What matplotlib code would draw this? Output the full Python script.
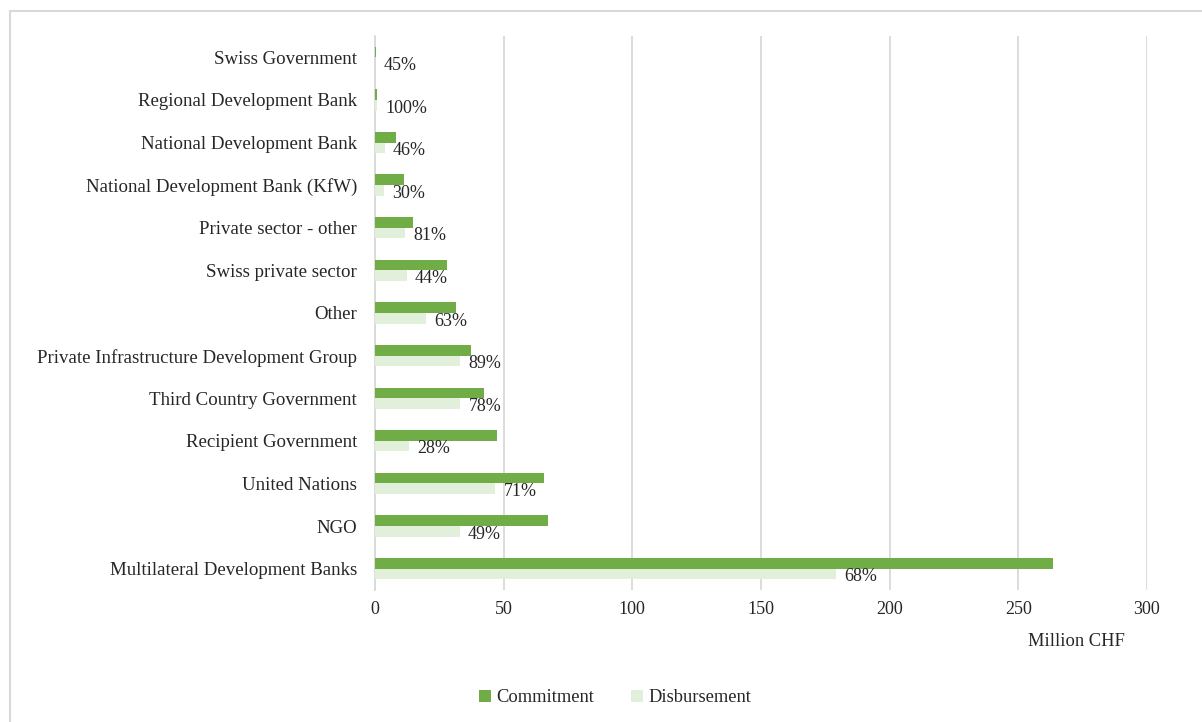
import matplotlib
matplotlib.use("Agg")
import matplotlib.pyplot as plt
from matplotlib.patches import Rectangle, Patch
import numpy as np

plt.rcParams['font.family'] = ['Liberation Serif', 'DejaVu Serif']

# Partner categories, bottom to top
categories = [
    "Multilateral Development Banks",
    "NGO",
    "United Nations",
    "Recipient Government",
    "Third Country Government",
    "Private Infrastructure Development Group",
    "Other",
    "Swiss private sector",
    "Private sector - other",
    "National Development Bank (KfW)",
    "National Development Bank",
    "Regional Development Bank",
    "Swiss Government",
]

# Committed amounts, million CHF
commitment = [263.5, 67.1, 65.8, 47.3, 42.4, 37.3, 31.4, 27.9, 14.6, 11.4, 8.1, 0.8, 0.2]

# Share of the commitment disbursed, percent
disbursed_pct = [68, 49, 71, 28, 78, 89, 63, 44, 81, 30, 46, 100, 45]

disbursement = [c * p / 100 for c, p in zip(commitment, disbursed_pct)]

x_ticks = [0, 50, 100, 150, 200, 250, 300]

green = "#70AD47"
light_green = "#E2EFDA"
grid_col = "#D9D9D9"
text_col = "#262626"

fig = plt.figure(figsize=(12.02, 7.22), dpi=100)

# Outer chart frame
fig.patches.append(Rectangle((9.5 / 1202, -0.01), 1.02, 1 - 10.5 / 722 + 0.01,
                             transform=fig.transFigure, fill=False,
                             edgecolor=grid_col, linewidth=1.5))

ax = fig.add_axes([375 / 1202, 1 - 590 / 722, 772 / 1202, 554 / 722])

y = np.arange(len(categories))
h = 0.25
ax.barh(y + h / 2, commitment, height=h, color=green, label="Commitment", zorder=3)
ax.barh(y - h / 2, disbursement, height=h, color=light_green, label="Disbursement", zorder=3)

# Disbursement share next to each disbursement bar
for yi, d, p in zip(y, disbursement, disbursed_pct):
    ax.annotate(f"{p}%", xy=(d, yi - h / 2), xytext=(6, -2), textcoords="offset points",
                ha="left", va="center", fontsize=13, color=text_col, zorder=4)

ax.set_xlim(0, 300)
ax.set_ylim(-0.5, len(categories) - 0.5)
ax.set_xticks(x_ticks)
ax.set_xticklabels([str(t) for t in x_ticks], fontsize=13, color=text_col)
ax.set_yticks(y)
ax.set_yticklabels(categories, fontsize=13.6, color=text_col)
ax.tick_params(axis="both", length=0)
ax.tick_params(axis="x", pad=8)
ax.tick_params(axis="y", pad=13)

ax.grid(axis="x", color=grid_col, linewidth=1.3, zorder=0)
for s in ["top", "right", "bottom"]:
    ax.spines[s].set_visible(False)
ax.spines["left"].set_color(grid_col)
ax.spines["left"].set_linewidth(1.3)

fig.text(1125 / 1202, 1 - 642 / 722, "Million CHF", ha="right", va="center",
         fontsize=13.3, color=text_col)

handles = [Patch(facecolor=green, label="Commitment"),
           Patch(facecolor=light_green, label="Disbursement")]
fig.legend(handles=handles, loc="center", bbox_to_anchor=(615 / 1202, 1 - 698 / 722),
           ncol=2, frameon=False, fontsize=13.3, handlelength=0.65, handleheight=0.65,
           handletextpad=0.3, columnspacing=2.0, labelcolor=text_col)

fig.savefig("out.png", dpi=100)
